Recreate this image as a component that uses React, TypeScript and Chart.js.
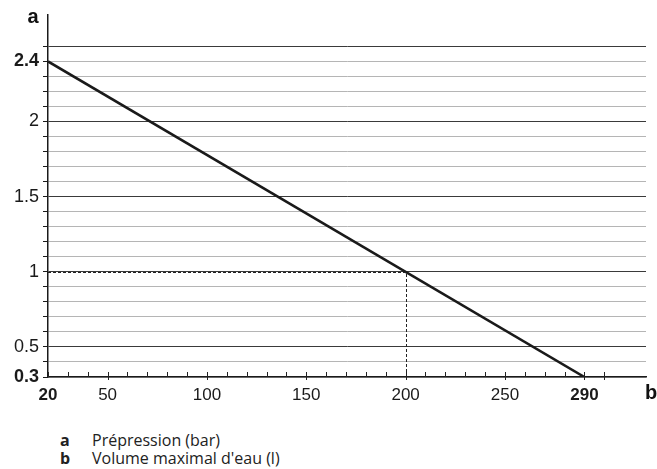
import React, { useEffect, useRef } from "react";
import { Chart, registerables } from "chart.js";

Chart.register(...registerables);

const linePoints = [
  { x: 20, y: 2.4 },
  { x: 290, y: 0.3 },
];
const markerX = 200;
const markerY = 1;
const yTickValues = [0.3, 0.4, 0.5, 0.6, 0.7, 0.8, 0.9, 1.0, 1.1, 1.2, 1.3, 1.4, 1.5, 1.6, 1.7, 1.8, 1.9, 2.0, 2.1, 2.2, 2.3, 2.4, 2.5];
const yMajor = [0.5, 1, 1.5, 2, 2.5];
const yLabels = [0.3, 0.5, 1, 1.5, 2, 2.4];
const yBold = [0.3, 2.4];
const xTickValues = [20, 30, 40, 50, 60, 70, 80, 90, 100, 110, 120, 130, 140, 150, 160, 170, 180, 190, 200, 210, 220, 230, 240, 250, 260, 270, 280, 290, 300];
const xLabels = [20, 50, 100, 150, 200, 250, 290];
const xBold = [20, 290];
const legendItems = [
  { key: "a", text: "Prépression (bar)" },
  { key: "b", text: "Volume maximal d'eau (l)" },
];

const near = (a: number, b: number) => Math.abs(a - b) < 1e-6;
const inList = (list: number[], v: number) => list.some((x) => near(x, v));

const FONT = "'Liberation Sans', Arial, sans-serif";

export default function App() {
  const ref = useRef<HTMLCanvasElement | null>(null);
  useEffect(() => {
    if (!ref.current) return;
    const overlay = {
      id: "overlay",
      afterDatasetsDraw(chart: any) {
        const { ctx, scales } = chart;
        const xs = scales.x;
        const ys = scales.y;
        const bottom = ys.getPixelForValue(0.3);
        ctx.save();
        ctx.strokeStyle = "#222";
        ctx.lineWidth = 1;
        ctx.setLineDash([3, 2]);
        const px = Math.round(xs.getPixelForValue(markerX)) + 0.5;
        const py = Math.round(ys.getPixelForValue(markerY)) + 0.5;
        ctx.beginPath();
        ctx.moveTo(xs.getPixelForValue(20), py);
        ctx.lineTo(px, py);
        ctx.lineTo(px, bottom);
        ctx.stroke();
        ctx.setLineDash([]);
        ctx.strokeStyle = "#222";
        ctx.lineWidth = 1;
        xTickValues.forEach((v) => {
          const x = Math.round(xs.getPixelForValue(v)) + 0.5;
          const major = v % 50 === 0 || v === 290;
          ctx.beginPath();
          ctx.moveTo(x, bottom - 5);
          ctx.lineTo(x, bottom + (major ? 3 : 0));
          ctx.stroke();
        });
        ctx.fillStyle = "#111";
        ctx.font = `bold 20px ${FONT}`;
        ctx.textAlign = "center";
        ctx.textBaseline = "middle";
        ctx.fillText("a", 33, 17);
        ctx.fillText("b", 651, 393);
        ctx.restore();
      },
    };
    const chart = new Chart(ref.current, {
      type: "scatter",
      data: {
        datasets: [
          {
            data: linePoints,
            showLine: true,
            borderColor: "#1a1a1a",
            borderWidth: 2.6,
            pointRadius: 0,
            fill: false,
          },
        ],
      },
      options: {
        animation: false,
        responsive: false,
        layout: { padding: { top: 12, right: 11, left: 0, bottom: 0 } },
        plugins: { legend: { display: false }, tooltip: { enabled: false } },
        scales: {
          x: {
            type: "linear",
            min: 20,
            max: 321,
            afterBuildTicks: (scale: any) => {
              scale.ticks = xTickValues.map((v) => ({ value: v }));
            },
            afterFit: (scale: any) => {
              scale.height = 43;
            },
            grid: { drawOnChartArea: false, drawTicks: false },
            border: { color: "#1a1a1a", width: 1.5 },
            ticks: {
              autoSkip: false,
              maxRotation: 0,
              padding: 8,
              color: "#1a1a1a",
              font: (c: any) => ({
                family: FONT,
                size: 17,
                weight: c.tick && inList(xBold, c.tick.value) ? "bold" : "normal",
              }),
              callback: (v: any) => (inList(xLabels, Number(v)) ? String(v) : ""),
            },
          },
          y: {
            type: "linear",
            min: 0.3,
            max: 2.71,
            afterBuildTicks: (scale: any) => {
              scale.ticks = yTickValues.map((v) => ({ value: v }));
            },
            afterFit: (scale: any) => {
              scale.width = 48;
            },
            grid: {
              color: (c: any) => (c.tick && inList(yMajor, c.tick.value) ? "#3a3a3a" : "#b5b5b5"),
              tickColor: "#1a1a1a",
              tickLength: 5,
              lineWidth: 1,
            },
            border: { color: "#1a1a1a", width: 1.5 },
            ticks: {
              autoSkip: false,
              padding: 4,
              color: "#1a1a1a",
              font: (c: any) => ({
                family: FONT,
                size: 18,
                weight: c.tick && inList(yBold, c.tick.value) ? "bold" : "normal",
              }),
              callback: (v: any) => {
                const n = Number(v);
                return inList(yLabels, n) ? String(Math.round(n * 10) / 10) : "";
              },
            },
          },
        },
      },
      plugins: [overlay],
    } as any);
    return () => chart.destroy();
  }, []);

  return (
    <div style={{ position: "absolute", left: 0, top: 0, width: 657, height: 469, background: "#fff" }}>
      <canvas ref={ref} width={657} height={420} style={{ position: "absolute", left: 0, top: 0, width: 657, height: 420 }} />
      {legendItems.map((it, i) => (
        <div
          key={it.key}
          style={{
            position: "absolute",
            left: 60,
            top: 431 + i * 18,
            fontFamily: "'Open Sans', sans-serif",
            fontSize: 16,
            lineHeight: "18px",
            color: "#222",
            whiteSpace: "nowrap",
          }}
        >
          <span style={{ fontWeight: "bold", display: "inline-block", width: 32 }}>{it.key}</span>
          {it.text}
        </div>
      ))}
    </div>
  );
}
